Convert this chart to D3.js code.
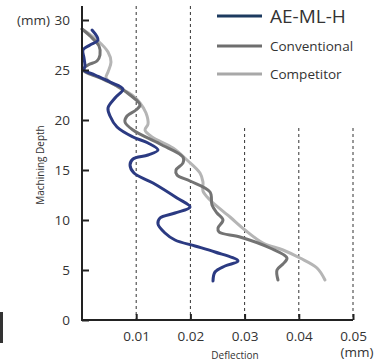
<!DOCTYPE html>
<html><head><meta charset="utf-8">
<script src="https://cdn.jsdelivr.net/npm/d3@7/dist/d3.min.js"></script>
<style>body{margin:0;background:#fff}svg{display:block}text{font-family:"Open Sans","Noto Sans",sans-serif;fill:#333}</style>
</head><body><svg id="c" width="386" height="363"></svg>
<script>
// data (deflection in mm, depth in mm)
const seriesNames = ["AE-ML-H", "Conventional", "Competitor"];
const xTicks = [0.01, 0.02, 0.03, 0.04, 0.05];
const yTicks = [0, 5, 10, 15, 20, 25, 30];
const aemlhX = [1.85,2.95,1.48,0.18,0.37,0.55,0.37,2.40,5.17,7.56,6.09,4.80,5.17,6.46,9.41,12.18,14.02,12.18,9.41,8.86,9.59,13.10,17.53,19.93,17.16,14.39,14.02,15.31,17.16,20.85,24.54,28.78,26.38,24.54,24.17];
const aemlhY = [29.0,28.0,27.5,27.0,26.2,25.4,25.0,24.5,23.8,23.1,22.2,21.2,20.4,19.3,18.3,17.7,17.0,16.5,16.1,15.5,14.7,13.7,12.2,11.3,10.7,10.2,9.6,8.7,8.0,7.4,6.8,5.9,5.4,4.8,3.9];
const convX = [0,1.48,3.14,3.32,2.77,1.11,0.18,3.32,6.46,8.86,10.70,9.96,8.30,7.93,9.41,14.39,18.63,18.63,17.34,17.53,19.93,23.62,23.99,24.91,26.01,25.09,25.28,29.15,34.69,37.82,37.08,35.98,36.16];
const convY = [29.1,28.4,27.4,26.5,25.9,25.5,25.0,24.2,23.4,22.5,21.5,21.0,20.4,19.8,19.0,17.6,16.3,15.7,15.0,14.5,13.9,12.8,11.5,10.7,10.0,9.2,8.8,8.3,7.2,6.2,5.6,5.0,4.0];
const compX = [0,2.77,4.80,5.35,4.80,4.43,6.64,9.23,10.70,11.81,12.18,11.62,12.92,16.79,19.37,21.77,22.32,22.32,23.62,27.31,30.07,33.39,37.08,40.22,43.36,44.83];
const compY = [29.1,28.0,26.8,25.8,24.8,24.2,23.3,22.5,21.7,20.7,19.6,19.0,18.3,17.2,16.0,14.7,13.8,12.9,12.0,10.3,9.0,7.7,7.0,6.2,5.2,4.0];

const svg = d3.select("#c");
const x = d3.scaleLinear().domain([0, 0.05]).range([82, 353]);
const y = d3.scaleLinear().domain([0, 30]).range([320, 20]);

// grid lines
const gridTop = {0.01: 6, 0.02: 6, 0.03: 128, 0.04: 128, 0.05: 128};
svg.append("g").selectAll("line").data(xTicks).join("line")
  .attr("x1", d => x(d)).attr("x2", d => x(d))
  .attr("y1", d => gridTop[d]).attr("y2", 320)
  .attr("stroke", "#333").attr("stroke-width", 1).attr("stroke-dasharray", "3,3");

// curves
const colors = ["#2b3a82", "#737373", "#b5b5b5"];
const legendColors = ["#1c3a5f", "#6e6e6e", "#a8a8a8"];
const sets = [[aemlhX, aemlhY], [convX, convY], [compX, compY]];
const line = d3.line().x(d => x(d[0] / 1000)).y(d => y(d[1])).curve(d3.curveCatmullRom.alpha(0.5));
[2, 1, 0].forEach(i => {
  const pts = sets[i][0].map((v, j) => [v, sets[i][1][j]]);
  svg.append("path").attr("d", line(pts)).attr("fill", "none")
    .attr("stroke", colors[i]).attr("stroke-width", 3).attr("stroke-linejoin", "round").attr("stroke-linecap", "round");
});

// axes
const xa = svg.append("g").attr("transform", "translate(0,320)")
  .call(d3.axisBottom(x).tickValues(xTicks).tickSize(-6).tickPadding(11).tickFormat(d3.format(".2f")).tickSizeOuter(0));
xa.select(".domain").attr("stroke", "#222").attr("stroke-width", 2).attr("d", "M82,0H353");
const ya = svg.append("g").attr("transform", "translate(82,0)")
  .call(d3.axisLeft(y).tickValues(yTicks).tickSize(-7).tickPadding(12).tickSizeOuter(0));
ya.select(".domain").attr("stroke", "#222").attr("stroke-width", 2).attr("d", "M0,6V321");
svg.selectAll(".tick line").attr("stroke", "#222").attr("stroke-width", 2);
svg.selectAll(".tick text").style("font-size", "13.5px").attr("fill", "#333");

// unit labels
svg.append("text").attr("x", 50).attr("y", 25).attr("text-anchor", "end").style("font-size", "13.5px").text("(mm)");
svg.append("text").attr("x", 357).attr("y", 357).attr("text-anchor", "middle").style("font-size", "13.5px").text("(mm)");
svg.append("text").attr("x", 235).attr("y", 359).attr("text-anchor", "middle").style("font-size", "10px").text("Deflection");
svg.append("text").attr("transform", "translate(44,165) rotate(-90)").attr("text-anchor", "middle").style("font-size", "10px").text("Machining Depth");

// legend
const ly = [16, 46, 74];
const lsize = ["19px", "13.5px", "13.5px"];
seriesNames.forEach((n, i) => {
  svg.append("line").attr("x1", 217).attr("x2", 262).attr("y1", ly[i]).attr("y2", ly[i])
    .attr("stroke", legendColors[i]).attr("stroke-width", 3);
  svg.append("text").attr("x", 270).attr("y", ly[i]).attr("dy", "0.36em").style("font-size", lsize[i]).text(n);
});

// stray bar at the left edge
svg.append("rect").attr("x", 0).attr("y", 312).attr("width", 3).attr("height", 31).attr("fill", "#333");
</script></body></html>
